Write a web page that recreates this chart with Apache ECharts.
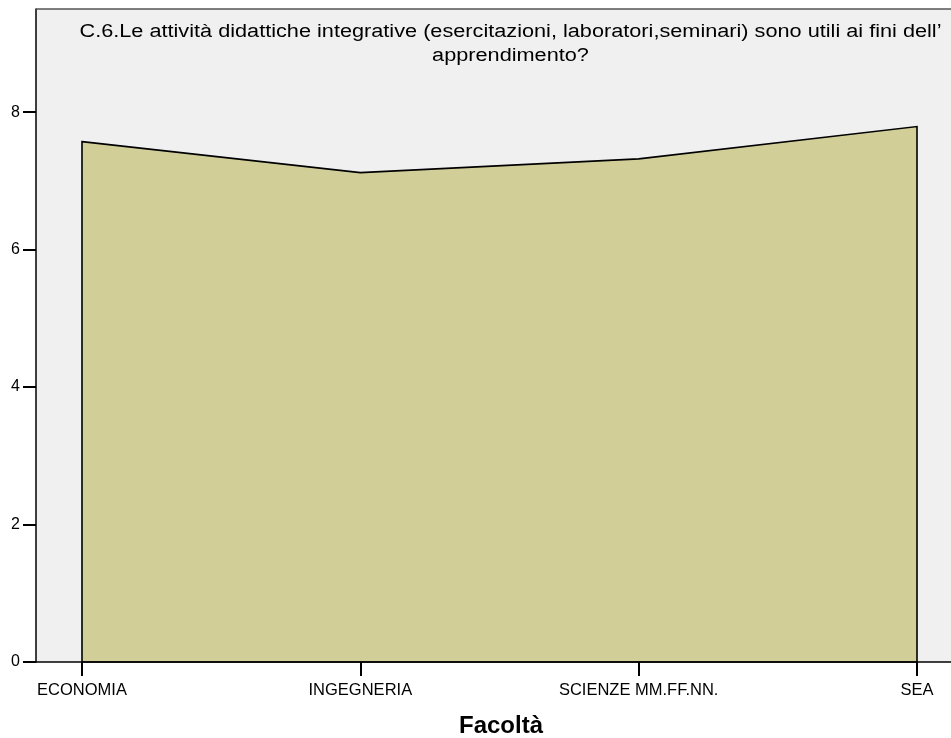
<!DOCTYPE html>
<html><head><meta charset="utf-8">
<script src="https://cdn.jsdelivr.net/npm/echarts@6/dist/echarts.min.js"></script>
<style>html,body{margin:0;padding:0;background:#fff}#c{width:951px;height:738px}</style>
</head><body><div id="c"></div>
<script>
const categories = ['ECONOMIA', 'INGEGNERIA', 'SCIENZE MM.FF.NN.', 'SEA'];
const values = [7.57, 7.12, 7.32, 7.79];
const yTicks = [0, 2, 4, 6, 8];
const titleLines = ['C.6.Le attività didattiche integrative (esercitazioni, laboratori,seminari) sono utili ai fini dell’', 'apprendimento?'];
const xTitle = 'Facoltà';

const FONT = '"Liberation Sans", Arial, sans-serif';
const chart = echarts.init(document.getElementById('c'), null, {renderer: 'canvas'});

chart.setOption({
  animation: false,
  backgroundColor: '#ffffff',
  grid: {left: 82, right: 34, top: 9, bottom: 76},
  graphic: [
    {type: 'rect', z: -10, shape: {x: 36, y: 9, width: 930, height: 653}, style: {fill: '#f0f0f0'}},
    {type: 'line', z: 10, shape: {x1: 36, y1: 9, x2: 951, y2: 9}, style: {stroke: '#555555', lineWidth: 1.5}},
    {type: 'line', z: 10, shape: {x1: 36, y1: 662, x2: 951, y2: 662}, style: {stroke: '#000000', lineWidth: 1.5}},
    {type: 'text', z: 20, x: 510.5, y: 20, scaleX: 1.205, style: {text: titleLines.join('\n'), align: 'center', verticalAlign: 'top', fill: '#000', font: '18px ' + FONT, lineHeight: 24}},
    {type: 'text', z: 20, x: 501, y: 726, style: {text: xTitle, align: 'center', verticalAlign: 'middle', fill: '#000', font: 'bold 24px ' + FONT}}
  ],
  xAxis: {
    type: 'category',
    data: categories,
    boundaryGap: false,
    axisLine: {show: false},
    axisTick: {show: true, inside: false, length: 14, lineStyle: {color: '#000', width: 2}},
    axisLabel: {fontFamily: FONT, fontSize: 16.5, color: '#000', margin: 20},
    splitLine: {show: false}
  },
  yAxis: {
    type: 'value',
    min: 0, max: 9.5,
    offset: 46,
    axisLine: {show: true, lineStyle: {color: '#000', width: 1.5}},
    axisTick: {show: true, length: 13, customValues: yTicks, lineStyle: {color: '#000', width: 2}},
    axisLabel: {fontFamily: FONT, fontSize: 16, color: '#000', margin: 16, customValues: yTicks},
    splitLine: {show: false}
  },
  series: [{
    type: 'custom',
    data: values.map((v, i) => [i, v]),
    encode: {x: 0, y: 1},
    renderItem: function (params, api) {
      if (params.dataIndex !== 0) return;
      const pts = values.map((v, i) => api.coord([i, v]));
      pts.push(api.coord([values.length - 1, 0]));
      pts.push(api.coord([0, 0]));
      return {
        type: 'polygon',
        shape: {points: pts},
        style: {fill: '#d2ce98', stroke: '#000000', lineWidth: 1.6, lineJoin: 'miter'}
      };
    }
  }]
});
</script></body></html>
